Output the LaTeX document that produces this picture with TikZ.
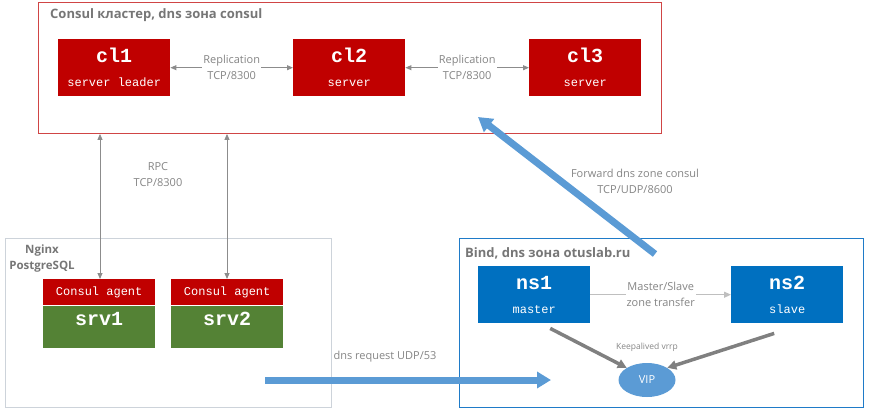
\documentclass[tikz,border=0pt]{standalone}
\usepackage{fontspec}
\setmainfont{Open Sans}
\setmonofont{Liberation Mono}
\usepackage{tikz}
\usetikzlibrary{arrows.meta, positioning, shapes.geometric, calc}

\definecolor{srvred}{HTML}{C00000}
\definecolor{framered}{HTML}{D04545}
\definecolor{srvgreen}{HTML}{548235}
\definecolor{nsblue}{HTML}{0070C0}
\definecolor{lightblue}{HTML}{5B9BD5}
\definecolor{bindframe}{HTML}{1F7BC8}
\definecolor{greyframe}{HTML}{CDD3DA}
\definecolor{titlegrey}{HTML}{767676}
\definecolor{labelgrey}{HTML}{858585}
\definecolor{linegrey}{HTML}{8C8C8C}

\begin{document}
\begin{tikzpicture}[x=1pt,y=-1pt,
    title/.style={text=titlegrey, font=\fontsize{13}{16}\selectfont\bfseries, inner sep=0pt},
    lbl/.style={text=labelgrey, font=\fontsize{11}{16}\selectfont, align=center, inner sep=1pt},
    serverbox/.style={fill=srvred, text=white, minimum width=112pt, minimum height=57pt,
        inner sep=0pt, align=center, anchor=north west,
        font=\ttfamily\fontsize{12}{14}\selectfont},
    nsbox/.style={serverbox, fill=nsblue},
    agentbox/.style={fill=srvred, text=white, minimum width=112pt, minimum height=26pt,
        inner sep=0pt, font=\ttfamily\fontsize{12}{14}\selectfont},
    hostbox/.style={fill=srvgreen, text=white, minimum width=112pt, minimum height=42pt,
        inner sep=0pt, text height=16pt, text depth=18pt,
        font=\ttfamily\bfseries\fontsize{20}{20}\selectfont},
    repl/.style={<->, >={Triangle[length=6pt,width=5pt]}, draw=linegrey, line width=0.9pt},
    bigarrow/.style={-{Triangle[length=14pt,width=16pt]}, draw=lightblue, line width=7pt}]

    \useasboundingbox (0,0) rectangle (869,415);

    % Consul cluster
    \node[draw=framered, line width=0.9pt, minimum width=623pt, minimum height=131pt,
        inner sep=0pt, anchor=north west] (cluster) at (38,2) {};
    \node[title, anchor=west] (clustertitle) at (50,15) {Consul кластер, dns зона consul};

    \node[serverbox] (cl1) at (58,39) {{\bfseries\fontsize{20}{20}\selectfont cl1}\\[10pt]server leader};
    \node[serverbox] (cl2) at (293,39) {{\bfseries\fontsize{20}{20}\selectfont cl2}\\[10pt]server};
    \node[serverbox] (cl3) at (529,39) {{\bfseries\fontsize{20}{20}\selectfont cl3}\\[10pt]server};

    \draw[repl] (cl1) -- (cl2) node[midway, lbl, fill=white] {Replication\\TCP/8300};
    \draw[repl] (cl2) -- (cl3) node[midway, lbl, fill=white] {Replication\\TCP/8300};

    % Nginx / PostgreSQL hosts
    \node[draw=greyframe, line width=0.9pt, minimum width=326pt, minimum height=169pt,
        inner sep=0pt, anchor=north west] (hosts) at (5,238) {};
    \node[title, align=center, font=\fontsize{11.5}{16}\selectfont\bfseries] (hoststitle) at (42,259) {Nginx\\PostgreSQL};

    \node[agentbox, anchor=north west] (agent1) at (43,279) {Consul agent};
    \node[hostbox, below=0pt of agent1] (srv1) {srv1};
    \node[agentbox, anchor=north west] (agent2) at (171,279) {Consul agent};
    \node[hostbox, below=0pt of agent2] (srv2) {srv2};

    % RPC
    \draw[repl] (agent1.north -| 100,0) -- (cluster.south -| 100,0);
    \draw[repl] (agent2.north -| 227,0) -- (cluster.south -| 227,0);
    \node[lbl] (rpc) at (158,175) {RPC\\TCP/8300};

    % Bind
    \node[draw=bindframe, line width=0.9pt, minimum width=404pt, minimum height=169pt,
        inner sep=0pt, anchor=north west] (bind) at (459,238) {};
    \node[title, anchor=west] (bindtitle) at (465,253) {Bind, dns зона otuslab.ru};

    \node[nsbox] (ns1) at (478,266) {{\bfseries\fontsize{20}{20}\selectfont ns1}\\[10pt]master};
    \node[nsbox] (ns2) at (731,266) {{\bfseries\fontsize{20}{20}\selectfont ns2}\\[10pt]slave};
    \draw[->, >={Triangle[length=7pt,width=6pt]}, draw=lightgray, line width=1.2pt]
        (ns1) -- (ns2) node[midway, lbl, fill=white] {Master/Slave\\zone transfer};

    \node[ellipse, fill=lightblue, text=white, minimum width=57pt, minimum height=34pt,
        font=\fontsize{11}{12}\selectfont] (vip) at (647,380) {VIP};
    \draw[-{Triangle[length=9pt,width=9pt]}, draw=gray, line width=3.5pt]
        ([xshift=16pt,yshift=-5pt]ns1.south) -- (vip.north west);
    \draw[-{Triangle[length=9pt,width=9pt]}, draw=gray, line width=3.5pt]
        ([xshift=-13pt,yshift=-10pt]ns2.south) -- (vip.north east);
    \node[lbl, font=\fontsize{8.5}{10}\selectfont] (vrrp) at (647,347) {Keepalived vrrp};

    % dns traffic
    \coordinate (reqstart) at (265,380);
    \coordinate (reqend) at (551,380);
    \draw[bigarrow] (reqstart) -- (reqend);
    \node[lbl] (req) at (385,357) {dns request UDP/53};

    \coordinate (fwdstart) at (655,254);
    \coordinate (fwdend) at (478,117);
    \draw[bigarrow] (fwdstart) -- (fwdend);
    \node[lbl] (fwd) at (635,181) {Forward dns zone consul\\TCP/UDP/8600};

\end{tikzpicture}
\end{document}
